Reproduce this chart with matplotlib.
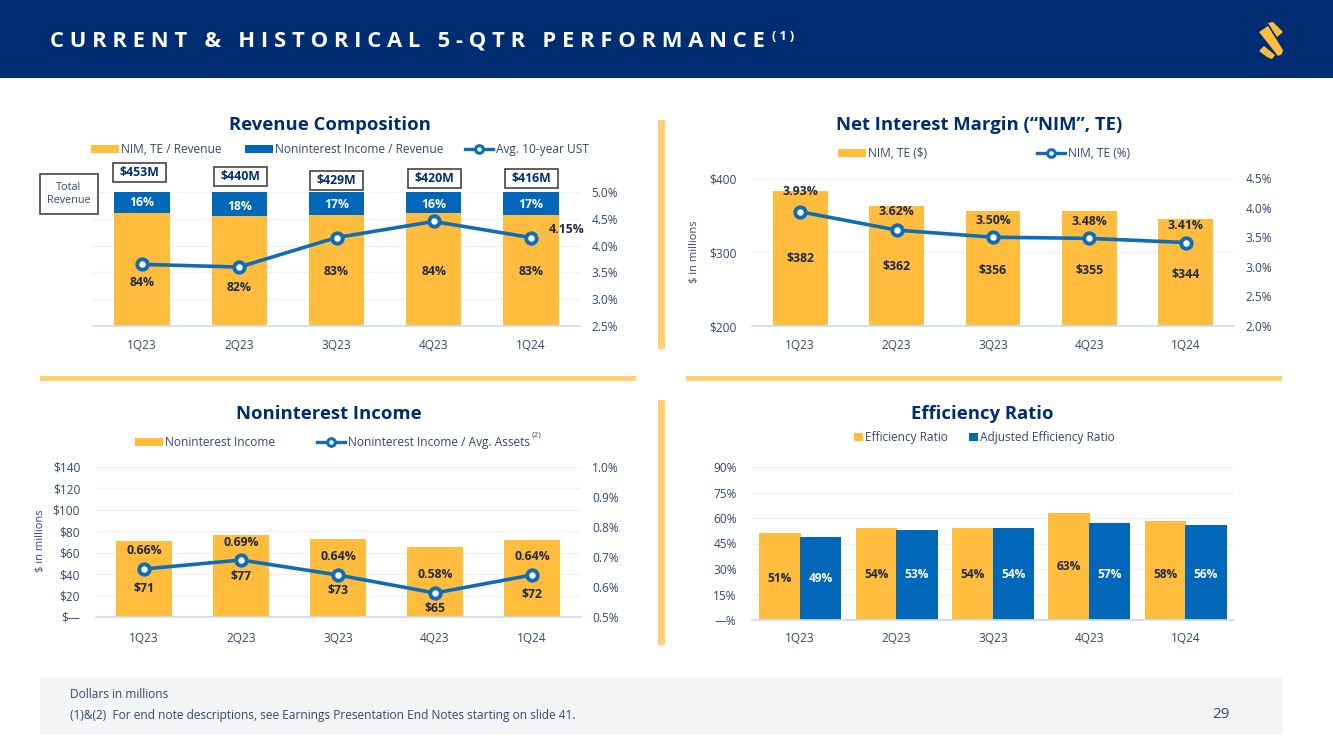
"""Current & historical 5-quarter performance slide."""
import matplotlib

matplotlib.use("Agg")
import matplotlib.pyplot as plt
from matplotlib.patches import Polygon, Rectangle

plt.rcParams["font.family"] = ["Open Sans", "DejaVu Sans"]

W, H = 1333, 749
NAVY = "#002D72"
GOLD = "#FFBC3D"
BLUE = "#0067B9"
LINE = "#0F6CB6"
TICK = "#33476F"
DARK = "#1E2A44"
GRID = "#EEF1F5"
BASE = "#C9DFF2"
RULE = "#FFCF70"

quarters = ["1Q23", "2Q23", "3Q23", "4Q23", "1Q24"]

rev_nim_share = [84, 82, 83, 84, 83]
rev_nonint_share = [16, 18, 17, 16, 17]
rev_totals = ["$453M", "$440M", "$429M", "$420M", "$416M"]
ust_10y = [3.65, 3.60, 4.15, 4.45, 4.15]

nim_dollars = [382, 362, 356, 355, 344]
nim_pct = [3.93, 3.62, 3.50, 3.48, 3.41]

nonint_dollars = [71, 77, 73, 65, 72]
nonint_pct = [0.66, 0.69, 0.64, 0.58, 0.64]

eff_ratio = [51, 54, 54, 63, 58]
adj_eff_ratio = [49, 53, 54, 57, 56]

fig = plt.figure(figsize=(W / 100, H / 100), dpi=100, facecolor="white")

# overlay in pixel coordinates for the slide furniture
bg = fig.add_axes([0, 0, 1, 1], zorder=5)
bg.set_xlim(0, W)
bg.set_ylim(H, 0)
bg.axis("off")
bg.patch.set_alpha(0)


def px_axes(left, top, right, bottom, zorder=1):
    return fig.add_axes(
        [left / W, 1 - bottom / H, (right - left) / W, (bottom - top) / H], zorder=zorder
    )


def style_axes(ax, yticks, ylabels, xpad=9.5):
    ax.set_xlim(-0.5, 4.5)
    ax.set_xticks(range(5), quarters)
    ax.set_yticks(yticks, ylabels)
    ax.tick_params(length=0, labelsize=8.6, labelcolor=TICK)
    ax.tick_params(axis="x", pad=xpad)
    ax.tick_params(axis="y", pad=11)
    ax.grid(axis="y", color=GRID, lw=1)
    ax.set_axisbelow(True)
    for name, spine in ax.spines.items():
        spine.set_visible(name == "bottom")
    ax.spines["bottom"].set_color(BASE)
    ax.spines["bottom"].set_linewidth(1.2)


def twin_line(ax, values, ylim, yticks, ylabels):
    tw = ax.twinx()
    tw.set_ylim(*ylim)
    tw.set_yticks(yticks, ylabels)
    tw.tick_params(length=0, labelsize=8.6, labelcolor=TICK, pad=8.5)
    for spine in tw.spines.values():
        spine.set_visible(False)
    tw.plot(range(5), values, color=LINE, lw=2.6, marker="o", ms=7.5,
            mfc="white", mec=LINE, mew=2.8, zorder=4)
    return tw


def value_labels(ax, y_values, texts, offsets, color=DARK):
    for i, (y, s, off) in enumerate(zip(y_values, texts, offsets)):
        ax.annotate(s, (i, y), xytext=(0, off), textcoords="offset pixels", ha="center",
                    va="center", fontsize=8.8, fontweight="bold", color=color, zorder=6)


def legend_bar(x, y, text, color=GOLD, w=28, h=8):
    bg.add_patch(Rectangle((x, y - h / 2), w, h, color=color, lw=0))
    bg.text(x + w + 2, y + 0.5, text, fontsize=8.6, color=TICK, ha="left", va="center")


def legend_line(x, y, text):
    bg.plot([x, x + 28], [y, y], color=LINE, lw=2.4)
    bg.plot([x + 14], [y], color=LINE, marker="o", ms=5.5, mfc="white", mew=2.2)
    bg.text(x + 31, y + 0.5, text, fontsize=8.6, color=TICK, ha="left", va="center")


def title(x, y, text):
    bg.text(x, y + 2, text, fontsize=13.3, fontweight="bold", color=NAVY, ha="center", va="center")


# header band
bg.add_patch(Rectangle((0, 0), W, 78, color=NAVY, lw=0))
bg.text(50, 41, "C U R R E N T   &   H I S T O R I C A L   5 - Q T R   P E R F O R M A N C E",
        fontsize=15.8, fontweight="bold", color="white", ha="left", va="center")
bg.text(772, 36, "( 1 )", fontsize=9, fontweight="bold", color="white", ha="left", va="center")
bg.add_patch(Polygon([(1259, 32), (1268, 26), (1283, 50), (1282, 54), (1278, 56)], color=GOLD, lw=0))
bg.add_patch(Polygon([(1268, 23), (1273, 22), (1283, 32), (1277, 37)], color=GOLD, lw=0))
bg.add_patch(Polygon([(1259, 51), (1264, 46), (1275, 55), (1272, 59), (1267, 57)], color=GOLD, lw=0))

# dividers and footer
bg.add_patch(Rectangle((658, 120), 7, 229, color=RULE, lw=0))
bg.add_patch(Rectangle((658, 400), 7, 245, color=RULE, lw=0))
bg.add_patch(Rectangle((40, 376), 596, 5, color=RULE, lw=0))
bg.add_patch(Rectangle((686, 376), 596, 5, color=RULE, lw=0))
bg.add_patch(Rectangle((40, 677), 1243, 57, color="#F3F4F5", lw=0))
bg.text(70, 695, "Dollars in millions", fontsize=8.6, color=TICK, va="center")
bg.text(70, 716, "(1)&(2)  For end note descriptions, see Earnings Presentation End Notes starting on slide 41.",
        fontsize=8.6, color=TICK, va="center")
bg.text(1221, 714, "29", fontsize=11, color=TICK, ha="center", va="center")

# revenue composition
ax1 = px_axes(93.4, 192, 579.6, 326)
ax1.bar(range(5), rev_nim_share, width=0.57, color=GOLD)
ax1.bar(range(5), rev_nonint_share, width=0.57, bottom=rev_nim_share, color=BLUE)
ax1.set_ylim(0, 100)
style_axes(ax1, [0, 20, 40, 60, 80, 100], [])
value_labels(ax1, rev_nim_share, [f"{v}%" for v in rev_nim_share], [-69, -71, -57, -58, -57])
value_labels(ax1, [100] * 5, [f"{v}%" for v in rev_nonint_share], [-11, -14, -13, -12, -13], "white")
tw1 = twin_line(ax1, ust_10y, (2.5, 5.0), [2.5, 3.0, 3.5, 4.0, 4.5, 5.0],
                ["2.5%", "3.0%", "3.5%", "4.0%", "4.5%", "5.0%"])
tw1.annotate("4.15%", (4, ust_10y[4]), xytext=(18, 8), textcoords="offset pixels", ha="left",
             va="center", fontsize=8.8, fontweight="bold", color=DARK, zorder=6,
             arrowprops=dict(arrowstyle="-", color="#B8BEC8", lw=0.8, shrinkA=0, shrinkB=5))
for s, x, y in zip(rev_totals, [139, 240, 336, 434, 531], [172, 176, 180, 178.5, 178.5]):
    bg.add_patch(Rectangle((x - 26.5, y - 9.5), 53, 19, fc="white", ec="#444444", lw=1.2))
    bg.text(x, y + 0.5, s, fontsize=8.8, fontweight="bold", color=NAVY, ha="center", va="center")
bg.add_patch(Rectangle((40, 174), 58, 40, fc="white", ec="#444444", lw=1.2))
bg.text(69, 194, "Total\nRevenue", fontsize=7.8, color=TICK, ha="center", va="center")
title(330, 123, "Revenue Composition")
legend_bar(91, 149, "NIM, TE / Revenue")
legend_bar(245, 149, "Noninterest Income / Revenue", color=BLUE)
legend_line(465, 149, "Avg. 10-year UST")

# net interest margin
ax2 = px_axes(752, 178, 1234, 326)
ax2.bar(range(5), nim_dollars, width=0.57, color=GOLD)
ax2.set_ylim(200, 400)
style_axes(ax2, [200, 300, 400], ["$200", "$300", "$400"])
bg.text(695, 252, "$ in millions", fontsize=8, color=TICK, rotation=90, ha="center", va="center")
value_labels(ax2, [200] * 5, [f"${v}" for v in nim_dollars], [67, 59, 55, 55, 52])
tw2 = twin_line(ax2, nim_pct, (2.0, 4.5), [2.0, 2.5, 3.0, 3.5, 4.0, 4.5],
                ["2.0%", "2.5%", "3.0%", "3.5%", "4.0%", "4.5%"])
value_labels(tw2, nim_pct, [f"{v:.2f}%" for v in nim_pct], [20, 19, 17, 17, 17])
title(979, 123, "Net Interest Margin (“NIM”, TE)")
legend_bar(838, 153, "NIM, TE ($)")
legend_line(1037, 153, "NIM, TE (%)")

# noninterest income
ax3 = px_axes(95.5, 467, 580.5, 617)
ax3.bar(range(5), nonint_dollars, width=0.57, color=GOLD)
ax3.set_ylim(0, 140)
style_axes(ax3, range(0, 141, 20), ["$—", "$20", "$40", "$60", "$80", "$100", "$120", "$140"], xpad=11)
bg.text(41, 541, "$ in millions", fontsize=8, color=TICK, rotation=90, ha="center", va="center")
value_labels(ax3, [0] * 5, [f"${v}" for v in nonint_dollars], [29, 40, 26, 9, 23])
tw3 = twin_line(ax3, nonint_pct, (0.5, 1.0), [0.5, 0.6, 0.7, 0.8, 0.9, 1.0],
                ["0.5%", "0.6%", "0.7%", "0.8%", "0.9%", "1.0%"])
value_labels(tw3, nonint_pct, [f"{v:.2f}%" for v in nonint_pct], [18, 18, 18, 18, 18])
title(329, 412, "Noninterest Income")
legend_bar(135, 442, "Noninterest Income")
legend_line(317, 442, "Noninterest Income / Avg. Assets")
bg.text(537, 435, "(2)", fontsize=6, color=TICK, ha="center", va="center")

# efficiency ratio
ax4 = px_axes(752, 467, 1234, 620)
ax4.bar([i - 0.21 for i in range(5)], eff_ratio, width=0.43, color=GOLD)
ax4.bar([i + 0.21 for i in range(5)], adj_eff_ratio, width=0.43, color=BLUE)
ax4.set_ylim(0, 90)
style_axes(ax4, range(0, 91, 15), ["—%", "15%", "30%", "45%", "60%", "75%", "90%"], xpad=9)
eff_offsets = [42, 45, 45, 53, 46]
adj_offsets = [41, 45, 45, 46, 46]
for i, (a, b) in enumerate(zip(eff_ratio, adj_eff_ratio)):
    ax4.annotate(f"{a}%", (i - 0.21, 0), xytext=(0, eff_offsets[i]), textcoords="offset pixels",
                 ha="center", va="center", fontsize=8.6, fontweight="bold", color=DARK)
    ax4.annotate(f"{b}%", (i + 0.21, 0), xytext=(0, adj_offsets[i]), textcoords="offset pixels",
                 ha="center", va="center", fontsize=8.6, fontweight="bold", color="white")
title(982, 412, "Efficiency Ratio")
legend_bar(854, 437, "Efficiency Ratio", w=9)
legend_bar(969, 437, "Adjusted Efficiency Ratio", color=BLUE, w=9)

fig.savefig("out.png", dpi=100)
